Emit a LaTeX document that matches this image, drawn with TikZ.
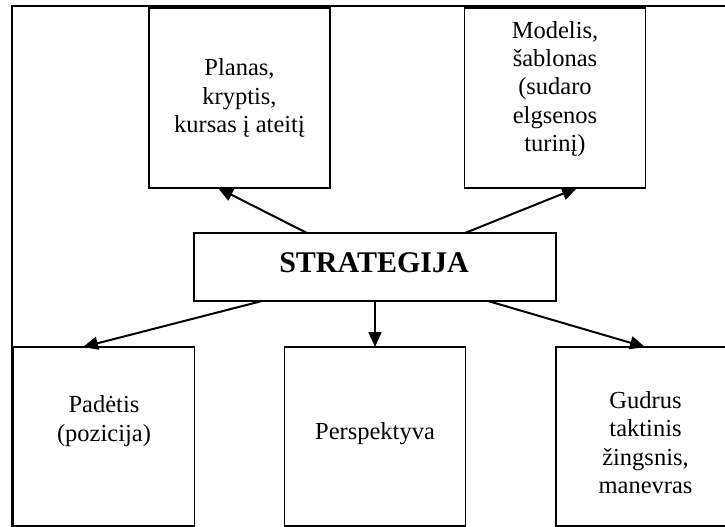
\documentclass[tikz,border=0pt]{standalone}
\usepackage{fontspec}
\setmainfont{Liberation Serif}
\usetikzlibrary{arrows.meta}
\begin{document}
\begin{tikzpicture}[x=1pt,y=-1pt,
  frame/.style={draw,line width=2.8pt},
  box/.style={draw,line width=1.6pt,inner sep=0pt,outer sep=0pt,
    minimum width=181pt,minimum height=180pt},
  lowbox/.style={box,minimum height=179pt},
  titlebox/.style={draw,line width=1.6pt,inner sep=0pt,outer sep=0pt,
    minimum width=362pt,minimum height=68pt},
  lbl/.style={font=\fontsize{24.5}{28.3}\selectfont,align=center,inner sep=0pt},
  title/.style={font=\bfseries\fontsize{30}{34}\selectfont,inner sep=0pt},
  arr/.style={line width=2pt,-{Triangle[length=15pt,width=13pt]}}]
\useasboundingbox (0,0) rectangle (725,527);
\clip (0,0) rectangle (725,527);

% surrounding frame
\draw[frame] (12,6) rectangle (760,560);

% boxes
\node[box] (plan) at (239.5,98) {};
\node[box] (model) at (555,98) {};
\node[titlebox] (strat) at (375,267) {};
\node[lowbox] (pad) at (104,436.5) {};
\node[lowbox] (persp) at (375,436.5) {};
\node[lowbox] (gud) at (646.5,436.5) {};

% texts
\node[lbl] (planT) at (239.5,98) {Planas,\\kryptis,\\kursas į ateitį};
\node[lbl] (modelT) at (555,89) {Modelis,\\šablonas\\(sudaro\\elgsenos\\turinį)};
\node[title,anchor=base] (stratT) at (374,272) {STRATEGIJA};
\node[lbl] (padT) at (104,421) {Padėtis\\(pozicija)};
\node[lbl,anchor=base] (perspT) at (375,439) {Perspektyva};
\node[lbl] (gudT) at (645.5,442.5) {Gudrus\\taktinis\\žingsnis,\\manevras};

% connectors
\draw[arr] ([xshift=-68pt]strat.north) -- ([xshift=-21.5pt]plan.south);
\draw[arr] ([xshift=90pt]strat.north) -- ([xshift=22pt]model.south);
\draw[arr] ([xshift=-113pt]strat.south) -- ([xshift=-21pt]pad.north);
\draw[arr] (strat.south) -- (persp.north);
\draw[arr] ([xshift=113pt]strat.south) -- ([xshift=-1.5pt]gud.north);
\end{tikzpicture}
\end{document}
